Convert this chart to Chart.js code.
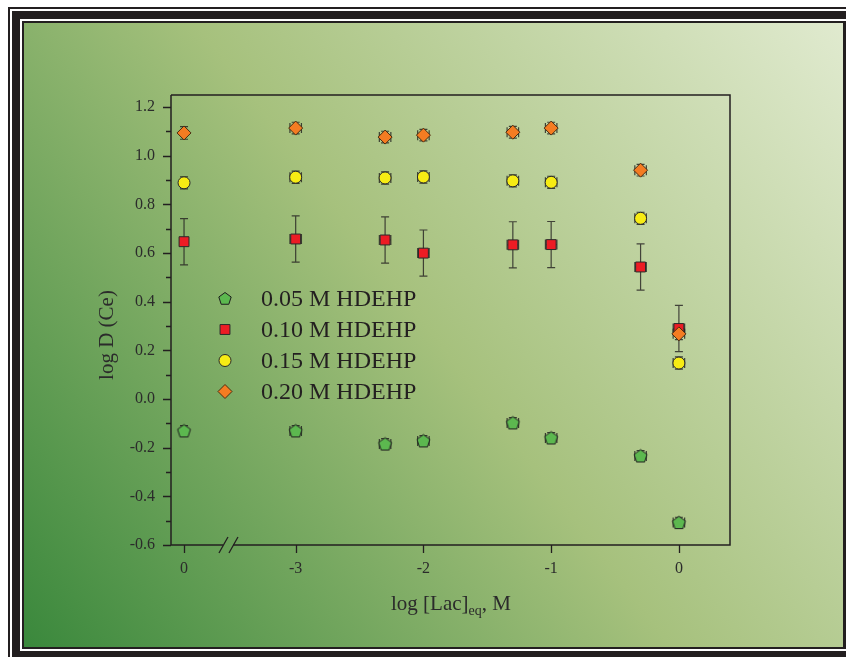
<!DOCTYPE html>
<html>
<head>
<meta charset="utf-8">
<script src="https://cdn.jsdelivr.net/npm/chart.js@4.4.0/dist/chart.umd.min.js"></script>
<style>
html,body{margin:0;padding:0;background:#fff;overflow:hidden}
canvas{display:block}
</style>
</head>
<body>
<canvas id="c" width="846" height="657"></canvas>
<script>
// x positions: the first column is the lactate-free run, placed left of the axis break
const lacPos = [-3.874, -3, -2.3, -2, -1.3, -1, -0.3, 0];
const xTickVals = [-3.874, -3, -2, -1, 0];
const xTickLabels = ['0', '-3', '-2', '-1', '0'];
const yTickVals = [-0.6, -0.4, -0.2, 0.0, 0.2, 0.4, 0.6, 0.8, 1.0, 1.2];

const seriesNames = ['0.05 M HDEHP', '0.10 M HDEHP', '0.15 M HDEHP', '0.20 M HDEHP'];

// log D (Ce)
const logD005 = [-0.131, -0.131, -0.185, -0.172, -0.098, -0.160, -0.234, -0.508];
const logD010 = [0.647, 0.658, 0.654, 0.600, 0.634, 0.635, 0.543, 0.290];
const logD015 = [0.889, 0.912, 0.909, 0.913, 0.897, 0.891, 0.743, 0.148];
const logD020 = [1.094, 1.114, 1.077, 1.085, 1.097, 1.114, 0.941, 0.268];

// error bars
const yErr005 = [0.022, 0.022, 0.022, 0.022, 0.022, 0.022, 0.022, 0.022];
const yErr010 = [0.095, 0.095, 0.095, 0.095, 0.095, 0.095, 0.095, 0.095];
const yErr015 = [0.025, 0.025, 0.025, 0.025, 0.025, 0.025, 0.025, 0.025];
const yErr020 = [0.026, 0.024, 0.024, 0.024, 0.024, 0.024, 0.024, 0.024];
const xErrAll = [0, 0.045, 0.045, 0.045, 0.045, 0.045, 0.045, 0.045];

const SERIF = "'Liberation Serif', 'Times New Roman', serif";
const INK = '#231f20';
const LABEL = '#2b2b2b';

function pentagonImage(r, fill, stroke) {
  const s = Math.ceil(2 * r + 3);
  const c = document.createElement('canvas');
  c.width = s; c.height = s;
  const g = c.getContext('2d');
  tracePentagon(g, s / 2, s / 2 + 0.5, r);
  g.fillStyle = fill; g.fill();
  g.lineWidth = 1; g.strokeStyle = stroke; g.stroke();
  return c;
}
function tracePentagon(g, cx, cy, r) {
  g.beginPath();
  for (let k = 0; k < 5; k++) {
    const a = -Math.PI / 2 + k * 2 * Math.PI / 5;
    const px = cx + r * Math.cos(a), py = cy + r * Math.sin(a);
    if (k) g.lineTo(px, py); else g.moveTo(px, py);
  }
  g.closePath();
}

const styles = [
  { kind: 'pentagon', fill: '#5cb84f', stroke: '#1e1e1e', r: 6.5 },
  { kind: 'rect', fill: '#ec1c24', stroke: '#2a2a2a', r: 7 },
  { kind: 'circle', fill: '#f7ec14', stroke: '#2a2a2a', r: 6 },
  { kind: 'rectRot', fill: '#f47c22', stroke: '#4a2c10', r: 7 }
];

const pentImg = pentagonImage(6.8, styles[0].fill, styles[0].stroke);

function pts(ys) { return lacPos.map((x, i) => ({ x: x, y: ys[i] })); }

// later series are painted over earlier ones (lower order = on top)
const datasets = [
  { label: seriesNames[0], order: 4, data: pts(logD005), yErr: yErr005, xErr: xErrAll,
    pointStyle: pentImg, backgroundColor: styles[0].fill, borderColor: styles[0].stroke },
  { label: seriesNames[1], order: 3, data: pts(logD010), yErr: yErr010, xErr: xErrAll,
    pointStyle: 'rect', pointRadius: 7, backgroundColor: styles[1].fill, borderColor: styles[1].stroke },
  { label: seriesNames[2], order: 2, data: pts(logD015), yErr: yErr015, xErr: xErrAll,
    pointStyle: 'circle', pointRadius: 6, backgroundColor: styles[2].fill, borderColor: styles[2].stroke },
  { label: seriesNames[3], order: 1, data: pts(logD020), yErr: yErr020, xErr: xErrAll,
    pointStyle: 'rectRot', pointRadius: 7, backgroundColor: styles[3].fill, borderColor: styles[3].stroke }
].map(d => Object.assign({ showLine: false, pointBorderWidth: 1, pointHoverRadius: d.pointRadius || 6 }, d));

// page frame and gradient backdrop
const backdrop = {
  id: 'backdrop',
  beforeDraw(chart) {
    const g = chart.ctx;
    g.save();
    g.fillStyle = '#ffffff'; g.fillRect(0, 0, 846, 657);
    g.fillStyle = INK; g.fillRect(8, 7, 900, 700);
    g.fillStyle = '#ffffff'; g.fillRect(10, 9, 900, 700);
    g.fillStyle = INK; g.fillRect(12, 11, 900, 700);
    g.fillStyle = '#ffffff'; g.fillRect(20, 19, 900, 632);
    g.fillStyle = INK; g.fillRect(22, 21, 900, 628);
    const grad = g.createLinearGradient(24, 647, 843, 23);
    grad.addColorStop(0, '#3a883c');
    grad.addColorStop(0.5, '#a6c17d');
    grad.addColorStop(1, '#e0eacf');
    g.fillStyle = grad; g.fillRect(24, 23, 819, 624);
    g.restore();
  }
};

// axis frame, tick marks and axis break
const axisBreakAt = -3.53;
const frame = {
  id: 'frame',
  beforeDatasetsDraw(chart) {
    const g = chart.ctx, a = chart.chartArea;
    const xs = chart.scales.x, ys = chart.scales.y;
    g.save();
    g.strokeStyle = INK; g.lineWidth = 1.5;
    const L = Math.round(a.left), R = Math.round(a.right), T = Math.round(a.top), B = Math.round(a.bottom);
    const bx = xs.getPixelForValue(axisBreakAt);
    g.beginPath();
    g.moveTo(L, T); g.lineTo(R, T); g.lineTo(R, B); g.lineTo(bx + 5, B);
    g.moveTo(bx - 5, B); g.lineTo(L, B); g.lineTo(L, T);
    g.stroke();
    // break marks
    g.lineWidth = 1.3;
    g.beginPath();
    [-5, 5].forEach(o => { g.moveTo(bx + o - 4, B + 8); g.lineTo(bx + o + 5, B - 8); });
    g.stroke();
    // y ticks: major every 0.2, minor in between
    g.lineWidth = 1.3;
    g.beginPath();
    for (let k = 0; k <= 18; k++) {
      const v = -0.6 + k * 0.1;
      const py = Math.round(ys.getPixelForValue(v)) + 0.5;
      const len = (k % 2 === 0) ? 8 : 5;
      g.moveTo(L, py); g.lineTo(L - len, py);
    }
    xTickVals.forEach(v => {
      const px = Math.round(xs.getPixelForValue(v)) + 0.5;
      g.moveTo(px, B); g.lineTo(px, B + 8);
    });
    g.stroke();

    // error bars, drawn under the markers
    chart.data.datasets.forEach((ds, i) => {
      g.strokeStyle = i === 1 ? 'rgba(35,31,32,0.8)' : 'rgba(30,30,30,0.8)';
      g.lineWidth = 1.2;
      ds.data.forEach((p, j) => {
        const px = xs.getPixelForValue(p.x);
        const py = ys.getPixelForValue(p.y);
        const e = ds.yErr[j];
        g.beginPath();
        if (e) {
          const y1 = ys.getPixelForValue(p.y + e), y2 = ys.getPixelForValue(p.y - e);
          g.moveTo(px, y1); g.lineTo(px, y2);
          g.moveTo(px - 4, y1); g.lineTo(px + 4, y1);
          g.moveTo(px - 4, y2); g.lineTo(px + 4, y2);
        }
        const ex = ds.xErr[j];
        if (ex) {
          const x1 = xs.getPixelForValue(p.x - ex), x2 = xs.getPixelForValue(p.x + ex);
          g.moveTo(x1, py); g.lineTo(x2, py);
          g.moveTo(x1, py - 5); g.lineTo(x1, py + 5);
          g.moveTo(x2, py - 5); g.lineTo(x2, py + 5);
        }
        g.stroke();
      });
    });
    g.restore();
  }
};

function drawMarker(g, st, x, y) {
  g.beginPath();
  if (st.kind === 'pentagon') tracePentagon(g, x, y + 0.5, st.r);
  else if (st.kind === 'rect') { const h = st.r * Math.SQRT1_2; g.rect(x - h, y - h, 2 * h, 2 * h); }
  else if (st.kind === 'circle') g.arc(x, y, st.r, 0, Math.PI * 2);
  else { g.moveTo(x - st.r, y); g.lineTo(x, y - st.r); g.lineTo(x + st.r, y); g.lineTo(x, y + st.r); g.closePath(); }
  g.fillStyle = st.fill; g.fill();
  g.lineWidth = 1; g.strokeStyle = st.stroke; g.stroke();
}

// axis titles and in-plot legend
const annotations = {
  id: 'annotations',
  afterDraw(chart) {
    const g = chart.ctx;
    g.save();
    g.fillStyle = INK;
    // legend
    g.font = '24px ' + SERIF;
    g.textBaseline = 'middle';
    g.textAlign = 'left';
    chart.data.datasets.forEach((ds, i) => {
      const y = 298.5 + i * 31;
      drawMarker(g, styles[i], 225, y);
      g.fillStyle = INK;
      g.fillText(ds.label, 261, y + 1);
    });
    // y title
    g.fillStyle = LABEL;
    g.save();
    g.translate(113, 335);
    g.rotate(-Math.PI / 2);
    g.font = '21px ' + SERIF;
    g.textAlign = 'center';
    g.textBaseline = 'alphabetic';
    g.fillText('log D (Ce)', 0, 0);
    g.restore();
    // x title with subscript
    g.textBaseline = 'alphabetic';
    g.textAlign = 'left';
    const big = '21px ' + SERIF, small = '14px ' + SERIF;
    const p1 = 'log [Lac]', sub = 'eq', p2 = ', M';
    g.font = big; const w1 = g.measureText(p1).width, w3 = g.measureText(p2).width;
    g.font = small; const w2 = g.measureText(sub).width;
    let x0 = 451 - (w1 + w2 + w3) / 2;
    const base = 610;
    g.font = big; g.fillText(p1, x0, base);
    g.font = small; g.fillText(sub, x0 + w1, base + 5);
    g.font = big; g.fillText(p2, x0 + w1 + w2, base);
    g.restore();
  }
};

Chart.defaults.font.family = SERIF;

new Chart(document.getElementById('c'), {
  type: 'scatter',
  data: { datasets: datasets },
  plugins: [backdrop, frame, annotations],
  options: {
    responsive: false,
    animation: false,
    events: [],
    layout: { padding: { left: 111, right: 116, top: 95, bottom: 42 } },
    plugins: { legend: { display: false }, tooltip: { enabled: false } },
    scales: {
      x: {
        type: 'linear',
        min: -3.976,
        max: 0.4,
        afterFit(s) { s.height = 70; },
        afterBuildTicks(s) { s.ticks = xTickVals.map(v => ({ value: v })); },
        grid: { display: false, drawTicks: false, tickLength: 0 },
        border: { display: false },
        ticks: {
          autoSkip: false, maxRotation: 0, padding: 14,
          color: LABEL, font: { size: 16, family: SERIF },
          callback: (v, i) => xTickLabels[i]
        }
      },
      y: {
        type: 'linear',
        min: -0.6,
        max: 1.25,
        afterFit(s) { s.width = 60; },
        afterBuildTicks(s) { s.ticks = yTickVals.map(v => ({ value: v })); },
        grid: { display: false, drawTicks: false, tickLength: 0 },
        border: { display: false },
        ticks: {
          padding: 16,
          color: LABEL, font: { size: 16, family: SERIF },
          callback: v => Number(v).toFixed(1)
        }
      }
    }
  }
});
</script>
</body>
</html>
